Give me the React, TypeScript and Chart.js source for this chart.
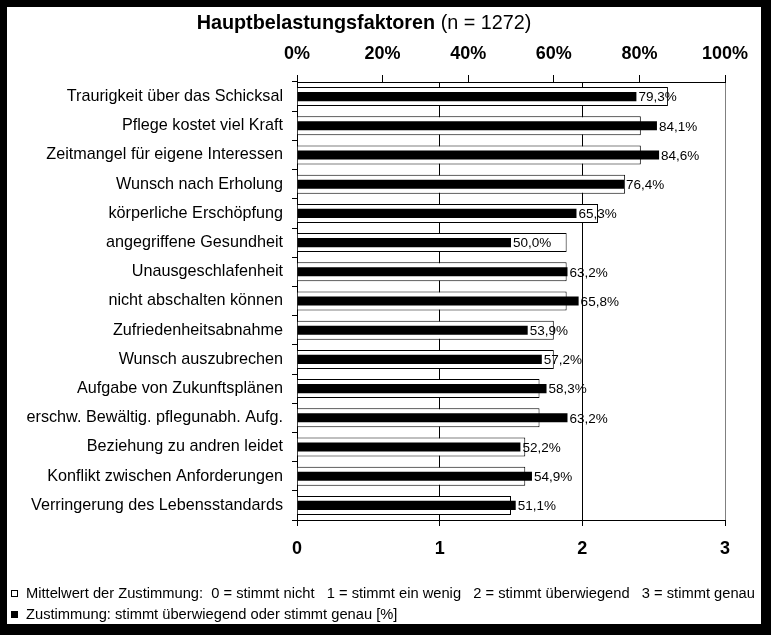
import React, { useEffect, useRef } from "react";
import { Chart, registerables } from "chart.js";

Chart.register(...registerables);

const categories = [
  "Traurigkeit über das Schicksal",
  "Pflege kostet viel Kraft",
  "Zeitmangel für eigene Interessen",
  "Wunsch nach Erholung",
  "körperliche Erschöpfung",
  "angegriffene Gesundheit",
  "Unausgeschlafenheit",
  "nicht abschalten können",
  "Zufriedenheitsabnahme",
  "Wunsch auszubrechen",
  "Aufgabe von Zukunftsplänen",
  "erschw. Bewältig. pflegunabh. Aufg.",
  "Beziehung zu andren leidet",
  "Konflikt zwischen Anforderungen",
  "Verringerung des Lebensstandards",
];

const meanValues = [2.6, 2.41, 2.41, 2.3, 2.11, 1.89, 1.89, 1.89, 1.8, 1.8, 1.7, 1.7, 1.6, 1.6, 1.5];
const agreePercent = [79.3, 84.1, 84.6, 76.4, 65.3, 50.0, 63.2, 65.8, 53.9, 57.2, 58.3, 63.2, 52.2, 54.9, 51.1];

const titleBold = "Hauptbelastungsfaktoren";
const titleNormal = " (n = 1272)";
const legendMean =
  "Mittelwert der Zustimmung:  0 = stimmt nicht   1 = stimmt ein wenig   2 = stimmt überwiegend   3 = stimmt genau";
const legendPercent = "Zustimmung: stimmt überwiegend oder stimmt genau [%]";

const FONT = "'Liberation Sans', Arial, sans-serif";

const extrasPlugin = {
  id: "extras",
  afterDatasetsDraw(chart: any) {
    const ctx = chart.ctx;
    const meta = chart.getDatasetMeta(0);
    ctx.save();
    ctx.fillStyle = "#000";
    ctx.font = `13.5px ${FONT}`;
    ctx.textBaseline = "middle";
    ctx.textAlign = "left";
    meta.data.forEach((el: any, i: number) => {
      const v = agreePercent[i];
      ctx.fillText(v.toFixed(1).replace(".", ",") + "%", el.x + 2, el.y + 1);
    });
    ctx.restore();
  },
  afterDraw(chart: any) {
    const ctx = chart.ctx;
    ctx.save();
    ctx.fillStyle = "#000";
    ctx.textBaseline = "middle";
    // title
    ctx.font = `bold 19.8px ${FONT}`;
    const wb = ctx.measureText(titleBold).width;
    ctx.font = `19.8px ${FONT}`;
    const wn = ctx.measureText(titleNormal).width;
    const cx = 357;
    const x0 = cx - (wb + wn) / 2;
    ctx.font = `bold 19.8px ${FONT}`;
    ctx.textAlign = "left";
    ctx.fillText(titleBold, x0, 17);
    ctx.font = `19.8px ${FONT}`;
    ctx.fillText(titleNormal, x0 + wb, 17);
    // legend
    ctx.font = `14.7px ${FONT}`;
    ctx.strokeStyle = "#000";
    ctx.lineWidth = 1;
    ctx.strokeRect(4.5, 583.5, 6, 6);
    ctx.fillText(legendMean, 19, 587);
    ctx.fillRect(4, 604, 7, 7);
    ctx.fillText(legendPercent, 19, 608);
    ctx.restore();
  },
};

export default function App() {
  const ref = useRef<HTMLCanvasElement | null>(null);
  useEffect(() => {
    if (!ref.current) return;
    const chart = new Chart(ref.current, {
      type: "bar",
      data: {
        labels: categories,
        datasets: [
          {
            label: "Zustimmung [%]",
            data: agreePercent,
            xAxisID: "x2",
            backgroundColor: "#000",
            borderWidth: 0,
            grouped: false,
            order: 0,
            categoryPercentage: 1,
            barPercentage: 0.31,
          },
          {
            label: "Mittelwert",
            data: meanValues,
            xAxisID: "x",
            backgroundColor: "#fff",
            borderColor: "#000",
            borderWidth: 1,
            grouped: false,
            order: 1,
            categoryPercentage: 1,
            barPercentage: 0.65,
          },
        ],
      },
      options: {
        indexAxis: "y",
        responsive: false,
        animation: false,
        layout: { padding: { left: 0, right: 36, top: 0, bottom: 0 } },
        plugins: { legend: { display: false }, title: { display: false }, tooltip: { enabled: false } },
        scales: {
          y: {
            type: "category",
            position: "left",
            offset: true,
            grid: { offset: true, drawOnChartArea: false, tickLength: 5, color: "#000" },
            border: { color: "#000", width: 1 },
            ticks: { color: "#000", font: { family: FONT, size: 16.2 }, padding: 9, autoSkip: false },
            afterFit: (s: any) => {
              s.width = 290;
            },
          },
          x: {
            type: "linear",
            position: "bottom",
            min: 0,
            max: 3,
            grid: {
              color: (c: any) => (c.tick && c.tick.value === 3 ? "#808080" : "#000"),
              tickColor: "#000",
              tickLength: 6,
            },
            border: { color: "#000", width: 1 },
            ticks: { stepSize: 1, color: "#000", font: { family: FONT, size: 18, weight: "bold" }, padding: 12 },
            afterFit: (s: any) => {
              s.height = 104;
            },
          },
          x2: {
            type: "linear",
            position: "top",
            axis: "x",
            min: 0,
            max: 100,
            grid: { drawOnChartArea: false, color: "#000", tickLength: 7 },
            border: { color: "#000", width: 1 },
            ticks: {
              stepSize: 20,
              color: "#000",
              font: { family: FONT, size: 18, weight: "bold" },
              padding: 10,
              callback: (v: any) => v + "%",
            },
            afterFit: (s: any) => {
              s.height = 75;
            },
          },
        },
      },
      plugins: [extrasPlugin],
    });
    return () => chart.destroy();
  }, []);

  return (
    <div style={{ position: "fixed", left: 0, top: 0, width: 771, height: 635, background: "#000" }}>
      <div style={{ position: "absolute", left: 7, top: 7, width: 754, height: 617, background: "#fff" }}>
        <canvas ref={ref} width={754} height={617} style={{ display: "block", width: 754, height: 617 }} />
      </div>
    </div>
  );
}
